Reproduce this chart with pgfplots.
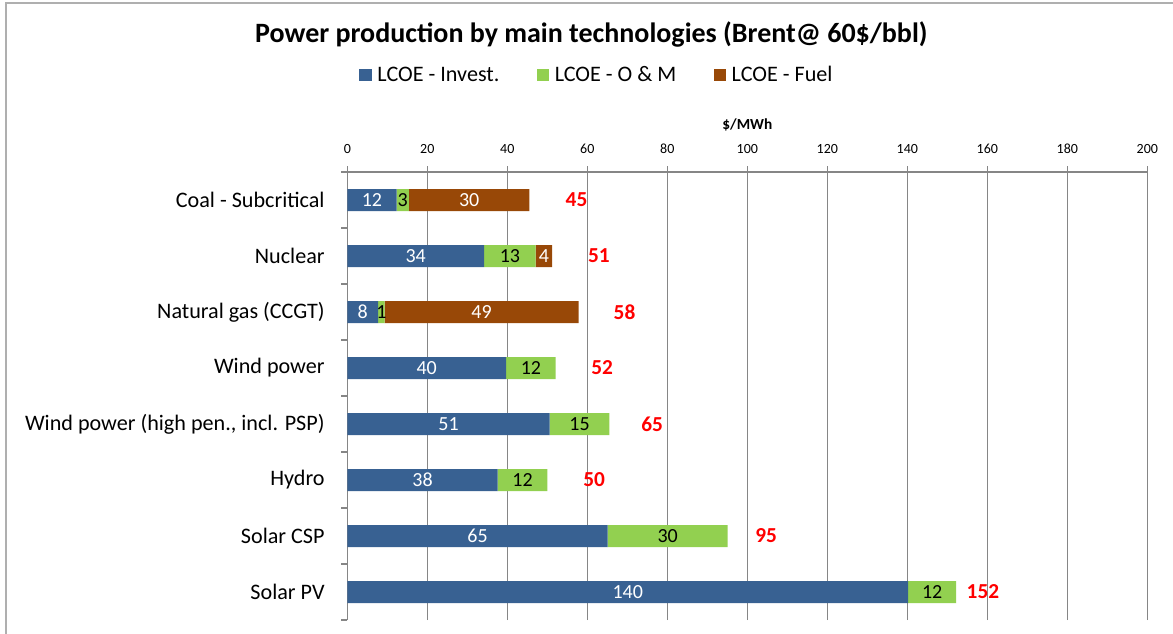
\documentclass[border=0pt]{standalone}
\usepackage{pgfplots}
\usepackage{pgfplotstable}
\pgfplotsset{compat=1.18}
\usepackage{fontspec}
\setmainfont{Carlito}

\definecolor{cInv}{RGB}{56,97,146}
\definecolor{cOM}{RGB}{146,208,80}
\definecolor{cFuel}{RGB}{152,72,7}
\definecolor{cGrid}{RGB}{134,134,134}
\definecolor{cFrame}{RGB}{175,175,175}

% rows from top (Coal, y=7) to bottom (Solar PV, y=0)
\pgfplotstableread{
y v lab
7 12.3 12
6 34.2 34
5 7.7 8
4 39.7 40
3 50.6 51
2 37.6 38
1 65.1 65
0 140.2 140
}\invest
\pgfplotstableread{
y v lab
7 3.1 3
6 12.9 13
5 1.6 1
4 12.4 12
3 14.9 15
2 12.4 12
1 30.0 30
0 12.0 12
}\om
\pgfplotstableread{
y v lab
7 30.1 30
6 4.1 4
5 48.5 49
4 0 {}
3 0 {}
2 0 {}
1 0 {}
0 0 {}
}\fuel
% position of the red total labels
\pgfplotstableread{
y v lab
7 57.3 45
6 62.9 51
5 69.3 58
4 63.7 52
3 76.2 65
2 61.7 50
1 104.7 95
0 158.9 152
}\total

\begin{document}
\begin{tikzpicture}
\useasboundingbox (0,0) rectangle (879.75pt,-474.75pt);
\draw[cFrame, line width=1.5pt] (4.5pt,-490pt) -- (4.5pt,-2.25pt) -- (890pt,-2.25pt);

\begin{axis}[
  at={(260.5pt,-129pt)}, anchor=north west,
  scale only axis, width=600pt, height=336pt,
  xbar stacked, bar width=16.5pt,
  xmin=0, xmax=200, xtick distance=20,
  ymin=-0.5, ymax=7.5,
  axis x line*=top, axis y line*=left,
  x axis line style={cGrid, line width=1.6pt, -},
  y axis line style={cGrid, line width=0.8pt, -},
  xmajorgrids=true,
  grid style={cGrid, line width=0.9pt},
  tick style={cGrid, line width=0.8pt},
  major tick length=4.5pt, tick align=outside,
  /pgf/number format/assume math mode=true,
  xticklabel style={font=\fontsize{10.5}{12}\selectfont, yshift=6pt},
  xlabel={\textbf{\$/MWh}},
  xlabel style={font=\fontsize{11.5}{13}\selectfont, yshift=2.5pt},
  ytick={0,...,7},
  yticklabels={Solar PV, Solar CSP, Hydro, {Wind power (high pen., incl. PSP)}, Wind power, Natural gas (CCGT), Nuclear, Coal - Subcritical},
  yticklabel style={font=\fontsize{16.6}{19}\selectfont, xshift=-9pt},
  ytick style={draw=none},
  extra y ticks={-0.5,0.5,...,7.5},
  extra y tick labels={},
  extra y tick style={ytick style={draw=cGrid}, grid=none},
  title={\textbf{Power production by main technologies (Brent@ 60\$/bbl)}},
  title style={at={(axis description cs:0.305,1.29)}, anchor=center, font=\fontsize{21}{25}\selectfont},
  legend style={at={(axis description cs:0.3125,1.2165)}, anchor=center, draw=none,
    legend columns=3, font=\fontsize{16.6}{19}\selectfont,
    /tikz/every odd column/.append style={column sep=2pt},
    /tikz/every even column/.append style={column sep=26pt}},
  legend image code/.code={\fill[#1] (0pt,-4.75pt) rectangle (9.5pt,4.75pt);},
  nodes near coords,
  point meta=explicit symbolic,
  every node near coord/.append style={anchor=center, font=\fontsize{15}{17}\selectfont},
]
\addplot[fill=cInv, draw=none, every node near coord/.append style={white}]
  table[x=v, y=y, meta=lab] {\invest};
\addplot[fill=cOM, draw=none, every node near coord/.append style={black}]
  table[x=v, y=y, meta=lab] {\om};
\addplot[fill=cFuel, draw=none, every node near coord/.append style={white}]
  table[x=v, y=y, meta=lab] {\fuel};
\legend{LCOE - Invest., LCOE - O \& M, LCOE - Fuel}
\end{axis}

\begin{axis}[
  at={(260.5pt,-129pt)}, anchor=north west,
  scale only axis, width=600pt, height=336pt,
  xmin=0, xmax=200, ymin=-0.5, ymax=7.5,
  hide axis, clip=false,
]
\addplot[draw=none, mark=none, nodes near coords, point meta=explicit symbolic,
  every node near coord/.append style={anchor=center, red, font=\fontsize{16}{18}\selectfont\bfseries}]
  table[x=v, y=y, meta=lab] {\total};
\end{axis}
\end{tikzpicture}
\end{document}
